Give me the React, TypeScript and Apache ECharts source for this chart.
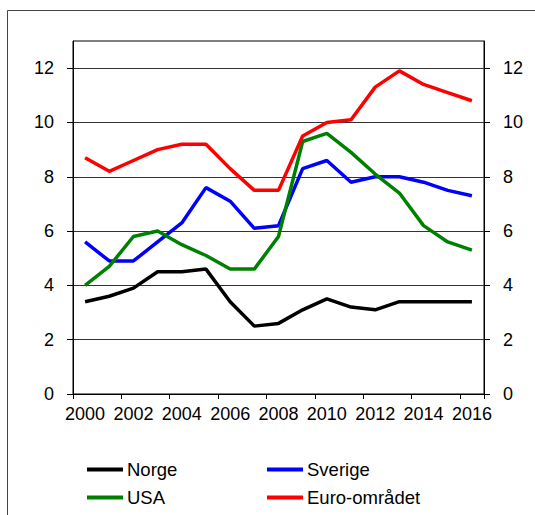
import React, { useEffect, useRef } from "react";
import * as echarts from "echarts";

const years = ["2000","2001","2002","2003","2004","2005","2006","2007","2008","2009","2010","2011","2012","2013","2014","2015","2016"];
const norge = [3.4, 3.6, 3.9, 4.5, 4.5, 4.6, 3.4, 2.5, 2.6, 3.1, 3.5, 3.2, 3.1, 3.4, 3.4, 3.4, 3.4];
const sverige = [5.6, 4.9, 4.9, 5.6, 6.3, 7.6, 7.1, 6.1, 6.2, 8.3, 8.6, 7.8, 8.0, 8.0, 7.8, 7.5, 7.3];
const usa = [4.0, 4.7, 5.8, 6.0, 5.5, 5.1, 4.6, 4.6, 5.8, 9.3, 9.6, 8.9, 8.1, 7.4, 6.2, 5.6, 5.3];
const euro = [8.7, 8.2, 8.6, 9.0, 9.2, 9.2, 8.3, 7.5, 7.5, 9.5, 10.0, 10.1, 11.3, 11.9, 11.4, 11.1, 10.8];
const yTicks = [0, 2, 4, 6, 8, 10, 12];

const FONT = "'Liberation Sans', Arial, sans-serif";
const FS = 18;

export default function App() {
  const ref = useRef<HTMLDivElement>(null);
  useEffect(() => {
    if (!ref.current) return;
    const chart = echarts.init(ref.current, null, { renderer: "svg" });
    const legendCommon = {
      icon: "rect",
      itemWidth: 36,
      itemHeight: 4,
      padding: 0,
      itemGap: 4,
      textStyle: { fontSize: 18.5, color: "#000", fontFamily: FONT, padding: [0, 0, 0, -1] },
    };
    const yCommon = {
      type: "value" as const,
      min: 0,
      max: 13,
      interval: 2,
      axisLine: { show: true, lineStyle: { color: "#000", width: 1 } },
      axisTick: { show: true, inside: false, length: 6, customValues: yTicks, lineStyle: { color: "#000" } },
      axisLabel: {
        margin: 19,
        fontSize: FS,
        color: "#000",
        fontFamily: FONT,
        customValues: yTicks,
      },
    };
    chart.setOption({
      animation: false,
      textStyle: { fontFamily: FONT },
      grid: {
        left: 73,
        top: 41,
        right: 51,
        bottom: 121,
        show: true,
        borderColor: "#000",
        borderWidth: 1,
        backgroundColor: "transparent",
      },
      graphic: [
        {
          type: "rect",
          shape: { x: 7.5, y: 10.5, width: 700, height: 700 },
          style: { fill: "none", stroke: "#444", lineWidth: 1 },
          silent: true,
          z: -10,
        },
      ],
      legend: [
        { ...legendCommon, data: ["Norge"], left: 87, top: 460 },
        { ...legendCommon, data: ["Sverige"], left: 267, top: 460 },
        { ...legendCommon, data: ["USA"], left: 87, top: 488 },
        { ...legendCommon, data: ["Euro-området"], left: 267, top: 488 },
      ],
      xAxis: {
        type: "category",
        data: years,
        boundaryGap: true,
        axisLine: { show: true, lineStyle: { color: "#000", width: 1 } },
        axisTick: { show: true, interval: 1, length: 5, lineStyle: { color: "#000" } },
        axisLabel: { interval: 1, margin: 11, fontSize: FS, color: "#000", fontFamily: FONT },
        splitLine: { show: false },
      },
      yAxis: [
        {
          ...yCommon,
          position: "left",
          splitLine: { show: true, lineStyle: { color: "#333", width: 1 } },
        },
        {
          ...yCommon,
          position: "right",
          splitLine: { show: false },
        },
      ],
      series: [
        { name: "Norge", type: "line", data: norge, symbol: "none", color: "#000000", lineStyle: { width: 3.5, color: "#000000" } },
        { name: "Sverige", type: "line", data: sverige, symbol: "none", color: "#0000FF", lineStyle: { width: 3.5, color: "#0000FF" } },
        { name: "USA", type: "line", data: usa, symbol: "none", color: "#008000", lineStyle: { width: 3.5, color: "#008000" } },
        { name: "Euro-området", type: "line", data: euro, symbol: "none", color: "#FF0000", lineStyle: { width: 3.5, color: "#FF0000" } },
      ],
    });
    return () => chart.dispose();
  }, []);
  return (
    <div
      ref={ref}
      style={{ position: "fixed", left: 0, top: 0, width: 535, height: 515, background: "#fff" }}
    />
  );
}
